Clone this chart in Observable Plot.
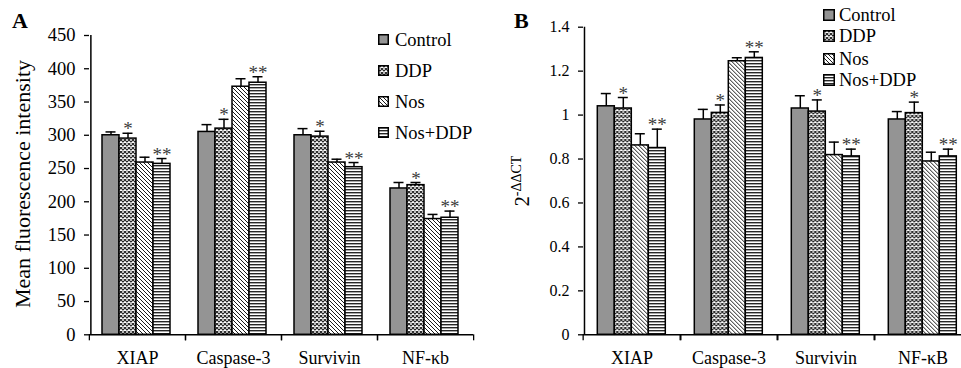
<!DOCTYPE html>
<html><head><meta charset="utf-8">
<script src="https://cdn.jsdelivr.net/npm/d3@7"></script>
<script src="https://cdn.jsdelivr.net/npm/@observablehq/plot@0.6"></script>
<style>
html,body{margin:0;padding:0;background:#fff;overflow:hidden}
#wrap{position:relative;width:961px;height:368px;overflow:hidden;font-family:"Liberation Serif","Times New Roman",serif;color:#000;background:#fff}
.abs{position:absolute}
.panel svg{display:block;overflow:visible}
#panelA g[aria-label="y-axis tick label"]{font-size:18.5px !important}
#panelB g[aria-label="y-axis tick label"]{font-size:16px !important}
.panel g[aria-label="fx-axis tick label"]{font-size:18px !important}
.leg{position:absolute;display:flex;align-items:center;height:20px;line-height:20px;white-space:nowrap}
.leg svg{display:block;flex:none}
.letter{position:absolute;font-weight:bold;font-size:22px;line-height:22px}
.ylab{position:absolute;transform:translate(-50%,-50%) rotate(-90deg);white-space:nowrap}
</style></head><body>
<svg width="0" height="0" style="position:absolute">
  <defs>
    <pattern id="pat-ddp" width="4" height="4" patternUnits="userSpaceOnUse">
      <rect width="4" height="4" fill="#fff"/>
      <path d="M0,0L4,4M4,0L0,4" stroke="#262626" stroke-width="1.15"/>
    </pattern>
    <pattern id="pat-nos" width="4" height="4" patternUnits="userSpaceOnUse">
      <rect width="4" height="4" fill="#fff"/>
      <path d="M0,0L4,4M-1,3L1,5M3,-1L5,1" stroke="#1a1a1a" stroke-width="1"/>
    </pattern>
    <pattern id="pat-nosddp" width="3" height="3" patternUnits="userSpaceOnUse">
      <rect width="3" height="3" fill="#fff"/>
      <rect y="0" width="3" height="1.4" fill="#262626"/>
    </pattern>
  </defs>
</svg>
<div id="wrap"></div>
<script>
// ---- data ----
const seriesNames = ["Control", "DDP", "Nos", "Nos+DDP"];
const categoriesA = ["XIAP", "Caspase-3", "Survivin", "NF-κb"];
const categoriesB = ["XIAP", "Caspase-3", "Survivin", "NF-κB"];
const sigLabels = ["", "*", "", "**"];

// Panel A: mean fluorescence intensity (mean, error)
const controlA = [300, 305, 300, 220];
const ddpA     = [295, 310, 298, 225];
const nosA     = [259, 373, 259, 174];
const nosDdpA  = [257, 379, 252, 176];
const controlErrA = [5, 11, 10, 9];
const ddpErrA     = [8, 14, 8, 4];
const nosErrA     = [8, 12, 5, 7];
const nosDdpErrA  = [8, 9, 7, 10];
const ticksA = [0, 50, 100, 150, 200, 250, 300, 350, 400, 450];

// Panel B: 2^-ΔΔCT (mean, error)
const controlB = [1.04, 0.98, 1.03, 0.98];
const ddpB     = [1.03, 1.01, 1.016, 1.009];
const nosB     = [0.862, 1.245, 0.818, 0.789];
const nosDdpB  = [0.85, 1.26, 0.812, 0.812];
const controlErrB = [0.058, 0.046, 0.058, 0.036];
const ddpErrB     = [0.05, 0.036, 0.053, 0.05];
const nosErrB     = [0.053, 0.016, 0.059, 0.042];
const nosDdpErrB  = [0.086, 0.028, 0.033, 0.033];
const ticksB = [0, 0.2, 0.4, 0.6, 0.8, 1, 1.2, 1.4];

// ---- styles ----
const fills = ["#949494", "url(#pat-ddp)", "url(#pat-nos)", "url(#pat-nosddp)"];

function buildRows(cats, means, errs) {
  return cats.flatMap((c, i) => seriesNames.map((s, j) => ({
    category: c, series: s, value: means[j][i], hi: means[j][i] + errs[j][i],
    sig: sigLabels[j], fill: fills[j]
  })));
}
const rowsA = buildRows(categoriesA, [controlA, ddpA, nosA, nosDdpA], [controlErrA, ddpErrA, nosErrA, nosDdpErrA]);
const rowsB = buildRows(categoriesB, [controlB, ddpB, nosB, nosDdpB], [controlErrB, ddpErrB, nosErrB, nosDdpErrB]);

function panel({rows, cats, ticks, domain, width, marginLeft, marginRight, marginTop, marginBottom, padOuter, align}) {
  const band = (width - marginLeft - marginRight) / cats.length;
  const step = band / (seriesNames.length + 2 * padOuter);
  const firstCenter = (band - seriesNames.length * step) * align + step / 2;
  return Plot.plot({
    width, height: 368, marginLeft, marginRight, marginTop, marginBottom,
    style: {fontFamily: '"Liberation Serif", "Times New Roman", serif', fontSize: "18px", color: "#000", background: "transparent", overflow: "visible"},
    fx: {domain: cats, padding: 0, label: null},
    x: {domain: seriesNames, paddingInner: 0, paddingOuter: padOuter, align, axis: null},
    y: {domain, axis: null},
    color: {type: "identity"},
    marks: [
      Plot.axisY(ticks, {anchor: "left", tickSize: 5, tickPadding: 9, tickFormat: d3.format("~g"), label: null, strokeWidth: 1.3}),
      Plot.barY(rows, {fx: "category", x: "series", y: "value", fill: "fill", stroke: "#000", strokeWidth: 1.5}),
      Plot.ruleX(rows, {fx: "category", x: "series", y1: "value", y2: "hi", stroke: "#000", strokeWidth: 1.5}),
      Plot.tickY(rows, {fx: "category", x: "series", y: "hi", insetLeft: 3.5, insetRight: 3.5, stroke: "#000", strokeWidth: 1.5}),
      Plot.text(rows.filter(d => d.sig), {fx: "category", x: "series", y: "hi", text: "sig", dy: -4, fontSize: 19, fill: "#3c3c3c"}),
      Plot.ruleY([0], {stroke: "#000", strokeWidth: 1.5}),
      // y axis line at the left edge of the first category band
      Plot.ruleX([{category: cats[0], series: seriesNames[0]}], {fx: "category", x: "series", y1: domain[0], y2: domain[1], dx: -firstCenter, stroke: "#000", strokeWidth: 1.5}),
      Plot.axisFx({anchor: "bottom", tickSize: 0, tickPadding: 16, label: null}),
      Plot.axisFx({anchor: "bottom", tickSize: 6, tickFormat: () => "", label: null, dx: -band / 2, strokeWidth: 1.3}),
      Plot.axisFx([cats[cats.length - 1]], {anchor: "bottom", tickSize: 6, tickFormat: () => "", label: null, dx: band / 2, strokeWidth: 1.3})
    ]
  });
}

const wrap = document.getElementById("wrap");

function addPanel(id, left, w, svg) {
  const d = document.createElement("div");
  d.className = "abs panel";
  d.id = id;
  d.style.left = left + "px"; d.style.top = "0px"; d.style.width = w + "px"; d.style.height = "368px";
  d.appendChild(svg);
  wrap.appendChild(d);
  return svg;
}

addPanel("panelA", 0, 480, panel({rows: rowsA, cats: categoriesA, ticks: ticksA, domain: [0, 450], width: 480,
  marginLeft: 88, marginRight: 7, marginTop: 35, marginBottom: 33.7, padOuter: 0.67, align: 0.46}));
addPanel("panelB", 480, 493, panel({rows: rowsB, cats: categoriesB, ticks: ticksB, domain: [0, 1.4], width: 493,
  marginLeft: 101.7, marginRight: 0.5, marginTop: 26.7, marginBottom: 33.7, padOuter: 0.71, align: 0.5}));

function html(tag, cls, styleObj, inner) {
  const e = document.createElement(tag);
  if (cls) e.className = cls;
  Object.assign(e.style, styleObj);
  e.innerHTML = inner;
  wrap.appendChild(e);
  return e;
}

// panel letters
html("div", "letter", {left: "12px", top: "10px"}, "A");
html("div", "letter", {left: "514px", top: "10px"}, "B");

// y labels
html("div", "ylab", {left: "23px", top: "184px", fontSize: "22px"}, "Mean fluorescence intensity");
html("div", "ylab", {left: "521px", top: "181px", fontSize: "20px"}, "2<sup style=\"font-size:14px;vertical-align:8px\">-ΔΔCT</sup>");

// legends
function legend(x, centers, sw, gap, fontSize) {
  seriesNames.forEach((s, j) => {
    const row = html("div", "leg", {left: x + "px", top: (centers[j] - 10) + "px", fontSize: fontSize + "px"}, "");
    row.innerHTML = `<svg width="${sw}" height="${sw}"><rect x="0.75" y="0.75" width="${sw - 1.5}" height="${sw - 1.5}" fill="${fills[j]}" stroke="#000" stroke-width="1.5"/></svg><span style="margin-left:${gap}px">${s}</span>`;
  });
}
legend(378, [39.5, 70.5, 101.7, 132.8], 11, 6, 18.5);
legend(823, [14.7, 36, 58.7, 79.5], 12, 4, 18.5);
</script>
</body></html>
